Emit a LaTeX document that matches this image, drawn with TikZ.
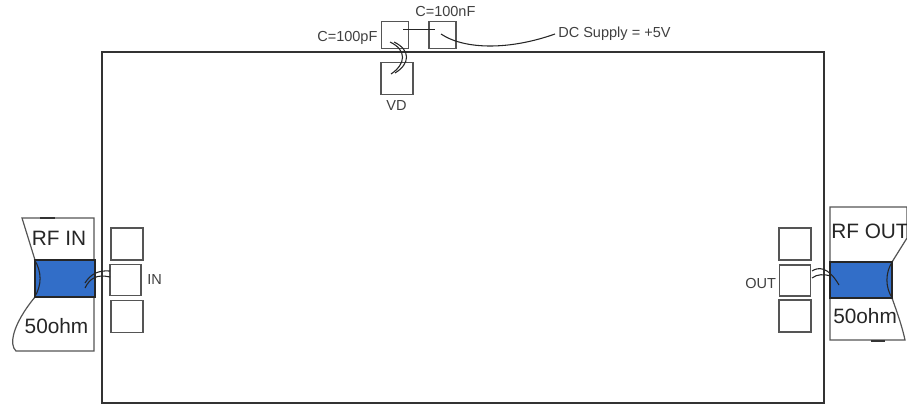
\documentclass[tikz,border=0pt]{standalone}
\usepackage{fontspec}
\setmainfont{Liberation Sans}
\definecolor{linegray}{RGB}{85,85,85}
\definecolor{stripblue}{RGB}{50,110,200}
\tikzset{
  x=0.75pt,y=-0.75pt,
  padbox/.style={draw=linegray,line width=1.2pt,fill=white,minimum width=#1*0.75pt,minimum height=#1*0.75pt,inner sep=0pt,anchor=center},
  smalltext/.style={inner sep=0pt,font=\fontsize{10.9pt}{12pt}\selectfont,text=black!75},
  bigtext/.style={inner sep=0pt,font=\fontsize{15.6pt}{18pt}\selectfont,text=black!85},
  carrier/.style={draw=linegray,line width=0.9pt,fill=white},
  strip/.style={draw=black!85,line width=1pt,fill=stripblue,inner sep=0pt},
  bond/.style={draw=black!85,line width=0.8pt},
  smudge/.style={draw=black!80,line width=1.1pt},
}
\begin{document}
\begin{tikzpicture}
\useasboundingbox (0,0) rectangle (907,404);
% die
\node[draw=black!80,line width=0.9pt,minimum width=722*0.75pt,minimum height=351*0.75pt,inner sep=0pt] (die) at (463,227.5) {};
% carriers
\path[carrier] (22,218) -- (94,218) -- (94,351) -- (16,351) .. controls (9,345) and (12,325) .. (35,297) -- (35,260) -- cycle;
\path[carrier] (830,207) -- (907,207) -- (907,238) -- (892,262) -- (892,298) .. controls (897,312) and (902,326) .. (905,340) -- (830,340) -- cycle;
\draw[smudge] (40,218) -- (55,218);
\draw[smudge] (871,341) -- (885,341);
% strips
\node[strip,minimum width=60*0.75pt,minimum height=37*0.75pt] (stripin) at (65,278.5) {};
\node[strip,minimum width=62*0.75pt,minimum height=36*0.75pt] (stripout) at (861,280) {};
\draw[bond] (stripin.north west) .. controls (42,272) and (42,285) .. (stripin.south west);
\draw[bond] (stripout.north east) .. controls (885,272) and (885,288) .. (stripout.south east);
% pads
\node[padbox=32] (inA) at (127,244) {};
\node[padbox=31] (inB) at (125.5,280) {};
\node[padbox=32] (inC) at (127,316.5) {};
\node[padbox=32] (outA) at (795,244) {};
\node[padbox=31] (outB) at (795,280.5) {};
\node[padbox=32] (outC) at (795,316) {};
\node[padbox=27] (cp) at (395,35) {};
\node[padbox=27] (cn) at (442.5,35) {};
\node[padbox=32] (vd) at (397,78.5) {};
% wires
\coordinate (cpin) at (403,29.5);
\coordinate (cnin) at (435,29.5);
\coordinate (cnwire) at (441,34);
\coordinate (dc) at (555,34);
\coordinate (cpa) at (394,42);
\coordinate (cpb) at (390,42);
\coordinate (vda) at (395,73);
\coordinate (vdb) at (391,74);
\draw[bond] (cpin) -- (cnin);
\draw[bond] (cnwire) .. controls (465,50) and (510,50) .. (dc);
\draw[bond] (cpa) .. controls (411,50) and (410,64) .. (vda);
\draw[bond] (cpb) .. controls (407,50) and (406,64) .. (vdb);
\coordinate (ina) at (85,288);
\coordinate (inb) at (85,283);
\coordinate (inpa) at (110,277);
\coordinate (inpb) at (110,271);
\draw[bond] (ina) .. controls (90,278) and (97,274) .. (inpa);
\draw[bond] (inb) .. controls (90,275) and (97,270) .. (inpb);
\coordinate (outa) at (839,285);
\coordinate (outb) at (831,276);
\coordinate (outpa) at (812,271);
\coordinate (outpb) at (812,278);
\draw[bond] (outpa) .. controls (818,267) and (828,266) .. (outa);
\draw[bond] (outpb) .. controls (817,274) and (824,274) .. (outb);
% labels
\node[bigtext] (rfin) at (59,238) {RF IN};
\node[bigtext] (ohmin) at (56.5,326) {50ohm};
\node[bigtext,anchor=west] (rfout) at (831,231) {RF OUT};
\node[bigtext,anchor=west] (ohmout) at (833,316) {50ohm};
\node[smalltext,anchor=west] (inl) at (147,279) {IN};
\node[smalltext,anchor=west] (outl) at (745,283) {OUT};
\node[smalltext,anchor=west] (cpl) at (317,38) {C=100pF};
\node[smalltext,anchor=west] (cnl) at (415,11) {C=100nF};
\node[smalltext,anchor=west] (dcl) at (558,34) {DC Supply = +5V};
\node[smalltext] (vdl) at (396.5,105) {VD};
\end{tikzpicture}
\end{document}
